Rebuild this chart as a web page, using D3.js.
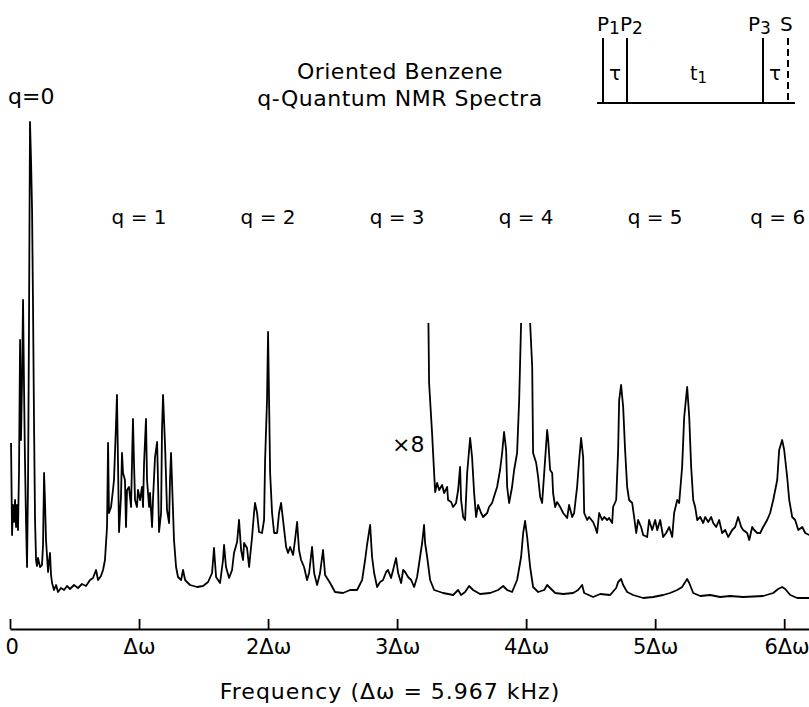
<!DOCTYPE html>
<html>
<head>
<meta charset="utf-8">
<script src="https://cdn.jsdelivr.net/npm/d3@7"></script>
<style>
  body { margin: 0; background: #fff; }
  svg { display: block; }
  text { font-family: "DejaVu Sans", sans-serif; fill: #000; }
</style>
</head>
<body>
<div id="vis"></div>
<script>
// spectrum values: [frequency in units of Δω, intensity (arb. units)]
const lowerTrace = [
  [0.008,157],[0.016,65],[0.023,95],[0.031,78],[0.039,100],[0.047,73],[0.054,95],[0.062,70],[0.070,130],[0.078,260],
  [0.085,160],[0.093,217],[0.101,300],[0.109,210],[0.116,140],[0.124,80],[0.132,33],[0.140,120],[0.147,270],[0.155,478],
  [0.163,440],[0.171,390],[0.178,300],[0.186,180],[0.194,80],[0.202,40],[0.209,34],[0.217,42],[0.233,33],[0.248,35],
  [0.256,55],[0.264,127],[0.271,100],[0.279,60],[0.287,44],[0.295,28],[0.302,38],[0.310,47],[0.318,25],[0.326,17],
  [0.341,10],[0.357,15],[0.372,8],[0.395,12],[0.419,10],[0.442,14],[0.465,11],[0.496,15],[0.527,12],[0.558,16],
  [0.589,14],[0.620,20],[0.643,22],[0.667,30],[0.682,20],[0.705,24],[0.721,30],[0.736,40],
  [0.752,73],[0.760,157],[0.767,87],[0.783,93],[0.798,110],[0.806,120],[0.822,177],[0.829,205],[0.837,137],[0.845,68],
  [0.860,103],[0.868,147],[0.876,127],[0.891,120],[0.899,73],[0.907,110],[0.922,113],[0.938,93],[0.946,140],[0.953,181],
  [0.961,137],[0.969,100],[0.984,93],[0.992,110],[1.008,100],[1.023,113],[1.031,93],[1.039,137],[1.054,181],[1.062,120],
  [1.078,93],[1.085,107],[1.101,73],[1.109,103],[1.124,143],[1.140,158],[1.147,120],[1.155,68],[1.171,87],[1.178,170],
  [1.186,205],[1.202,153],[1.217,90],[1.233,77],[1.240,120],[1.248,147],[1.264,87],[1.271,60],[1.287,33],[1.302,23],
  [1.326,20],[1.341,30],[1.357,20],[1.395,15],[1.450,13],[1.496,14],[1.535,18],
  [1.566,27],[1.581,52],[1.597,23],[1.628,17],[1.651,40],[1.659,55],[1.674,33],[1.698,22],[1.721,30],[1.736,47],
  [1.760,58],[1.775,80],[1.791,50],[1.806,40],[1.814,57],[1.837,52],[1.853,33],[1.876,63],[1.891,87],[1.899,97],
  [1.915,87],[1.930,68],[1.953,67],[1.969,80],[1.977,140],[1.992,200],[2.000,268],[2.008,197],[2.016,127],[2.031,87],
  [2.047,67],[2.070,67],[2.085,87],[2.101,97],[2.116,80],[2.140,53],[2.155,47],[2.171,53],[2.194,45],[2.209,60],
  [2.225,78],[2.240,50],[2.256,40],[2.279,33],[2.302,20],[2.318,27],[2.341,53],[2.357,27],[2.380,15],[2.403,27],
  [2.426,50],[2.442,25],[2.481,17],[2.519,8],[2.581,7],[2.636,10],[2.690,10],
  [2.729,20],[2.752,40],[2.767,55],[2.791,75],[2.806,43],[2.822,27],[2.845,13],[2.868,18],[2.891,20],[2.915,28],
  [2.930,30],[2.953,22],[2.969,30],[2.992,42],[3.008,27],[3.031,17],[3.047,30],[3.062,28],[3.085,23],[3.109,20],
  [3.132,13],[3.155,23],[3.178,43],[3.194,57],[3.209,75],[3.217,57],[3.233,43],[3.256,20],[3.287,10],[3.357,7],
  [3.434,5],[3.473,10],[3.496,5],[3.527,8],[3.558,14],[3.589,10],[3.643,6],[3.721,7],[3.783,10],[3.822,14],
  [3.853,10],[3.891,8],[3.930,20],[3.961,43],[3.977,67],[3.992,79],[4.008,63],[4.031,33],[4.054,13],[4.093,8],
  [4.140,10],[4.163,15],[4.186,12],[4.225,7],[4.287,6],[4.364,7],[4.403,10],[4.434,15],[4.450,7],[4.519,3],
  [4.574,6],[4.651,5],[4.698,12],[4.713,18],[4.736,21],[4.752,15],[4.783,8],[4.829,5],[4.907,2],[4.984,3],
  [5.062,5],[5.116,7],[5.171,10],[5.209,13],[5.233,18],[5.248,21],[5.264,17],[5.295,7],[5.349,4],[5.426,5],
  [5.504,3],[5.581,4],[5.682,3],[5.837,4],[5.915,7],[5.953,11],[5.984,13],[6.008,11],[6.047,5],[6.101,2],[6.194,2]
]

// the x8 expanded trace, as plotted (top clipped)
const x8Trace = [
  [3.240,310],[3.248,217],[3.271,167],[3.279,147],[3.287,127],[3.295,108],[3.310,117],[3.326,110],[3.349,115],[3.364,107],
  [3.388,113],[3.395,100],[3.419,98],[3.434,93],[3.457,97],[3.473,110],[3.488,133],[3.496,100],[3.512,83],[3.527,80],
  [3.543,127],[3.566,162],[3.581,143],[3.597,107],[3.612,83],[3.628,95],[3.651,87],[3.667,83],[3.698,87],[3.713,93],
  [3.736,97],[3.760,107],[3.775,113],[3.798,130],[3.814,147],[3.829,168],[3.845,150],[3.853,113],[3.868,97],[3.891,113],
  [3.907,130],[3.930,147],[3.946,200],[3.961,277],[3.992,350],[4.031,277],[4.047,233],[4.054,147],[4.078,137],[4.093,123],
  [4.109,103],[4.124,97],[4.140,127],[4.163,170],[4.171,160],[4.186,130],[4.202,127],[4.209,107],[4.225,93],[4.240,98],
  [4.264,93],[4.287,87],[4.318,82],[4.333,95],[4.357,83],[4.372,87],[4.395,113],[4.411,140],[4.426,162],[4.442,143],
  [4.450,87],[4.473,80],[4.488,83],[4.519,78],[4.535,73],[4.550,67],[4.566,87],[4.589,80],[4.605,83],[4.628,80],
  [4.643,82],[4.667,77],[4.674,93],[4.698,100],[4.713,150],[4.721,200],[4.736,215],[4.752,193],[4.767,150],[4.783,113],
  [4.798,100],[4.822,97],[4.837,83],[4.853,67],[4.868,80],[4.891,73],[4.907,65],[4.938,63],[4.953,80],[4.977,70],
  [5.000,80],[5.016,70],[5.039,80],[5.062,63],[5.085,67],[5.109,73],[5.132,63],[5.147,87],[5.171,100],[5.186,97],
  [5.209,133],[5.225,183],[5.248,213],[5.264,183],[5.279,133],[5.295,100],[5.310,93],[5.326,80],[5.349,83],[5.372,77],
  [5.388,83],[5.411,78],[5.434,83],[5.450,77],[5.473,73],[5.496,80],[5.519,67],[5.543,70],[5.566,63],[5.597,70],
  [5.620,73],[5.643,83],[5.667,73],[5.682,70],[5.713,67],[5.729,60],[5.752,73],[5.767,70],[5.791,67],[5.814,67],
  [5.837,73],[5.868,80],[5.891,87],[5.915,100],[5.946,120],[5.961,150],[5.984,160],[6.000,150],[6.023,123],[6.039,100],
  [6.062,83],[6.085,80],[6.109,70],[6.140,73],[6.163,67],[6.194,65]
]

const x8Clip = 277   // expanded trace is cut off above this level

const tickValues = [0, 1, 2, 3, 4, 5, 6]
const tickLabels = ["0", "Δω", "2Δω", "3Δω", "4Δω", "5Δω", "6Δω"]
// where each q label sits, in units of Δω
const qOrders = [1, 2, 3, 4, 5, 5.95]
const qLabels = ["q = 1", "q = 2", "q = 3", "q = 4", "q = 5", "q = 6"]

const width = 809
const height = 707

const svg = d3.select("#vis")
    .append("svg")
    .attr("width", width)
    .attr("height", height)

const x = d3.scaleLinear().domain([0, 6.2]).range([10, 810])
const y = d3.scaleLinear().domain([0, 480]).range([600, 120])

const line = d3.line()
    .x(d => x(d[0]))
    .y(d => y(d[1]))

svg.append("clipPath")
    .attr("id", "clipx8")
    .append("rect")
    .attr("x", 0)
    .attr("y", y(x8Clip))
    .attr("width", width)
    .attr("height", height)

svg.append("path")
    .datum(lowerTrace)
    .attr("d", line)
    .attr("fill", "none")
    .attr("stroke", "#000")
    .attr("stroke-width", 1.8)
    .attr("stroke-linejoin", "round")

svg.append("path")
    .datum(x8Trace)
    .attr("d", line)
    .attr("clip-path", "url(#clipx8)")
    .attr("fill", "none")
    .attr("stroke", "#000")
    .attr("stroke-width", 1.8)
    .attr("stroke-linejoin", "round")

// frequency axis, ticks pointing up
const axis = d3.axisBottom(x)
    .tickValues(tickValues)
    .tickFormat((d, i) => tickLabels[i])
    .tickSizeInner(-10)
    .tickSizeOuter(0)
    .tickPadding(10)

const gx = svg.append("g")
    .attr("transform", "translate(0,629)")
    .call(axis)

gx.select(".domain").attr("stroke-width", 2.2)
gx.selectAll(".tick line").attr("stroke-width", 1.8)
gx.selectAll(".tick text")
    .style("font-family", '"DejaVu Sans", sans-serif')
    .style("font-size", "21px")
    .attr("fill", "#000")
gx.select(".tick:first-of-type text").attr("text-anchor", "start").attr("dx", -5)
gx.select(".tick:last-of-type text").attr("text-anchor", "end").attr("dx", 25)

svg.append("text")
    .attr("x", 390)
    .attr("y", 699)
    .attr("text-anchor", "middle")
    .style("font-size", "22px")
    .style("letter-spacing", "1px")
    .text("Frequency  (Δω = 5.967 kHz)")

// q labels
svg.append("text").attr("x", 8).attr("y", 104).style("font-size", "22px").text("q=0")

svg.selectAll(".qlab")
    .data(qOrders)
    .enter()
    .append("text")
    .attr("class", "qlab")
    .attr("x", d => x(d))
    .attr("y", 224)
    .attr("text-anchor", "middle")
    .style("font-size", "20px")
    .text((d, i) => qLabels[i])

svg.append("text").attr("x", 392).attr("y", 452).style("font-size", "22px").text("×8")

// title
svg.append("text").attr("x", 400).attr("y", 79).attr("text-anchor", "middle")
    .style("font-size", "22px").style("letter-spacing", "0.5px").text("Oriented Benzene")
svg.append("text").attr("x", 400).attr("y", 106).attr("text-anchor", "middle")
    .style("font-size", "22px").style("letter-spacing", "0.5px").text("q-Quantum NMR Spectra")

// pulse sequence inset
const pulses = [
    {name: "P", sub: "1", x: 603},
    {name: "P", sub: "2", x: 627},
    {name: "P", sub: "3", x: 763},
    {name: "S", sub: "", x: 788, dashed: true}
]
const inset = svg.append("g")
inset.append("line").attr("x1", 597).attr("x2", 795).attr("y1", 103).attr("y2", 103)
    .attr("stroke", "#000").attr("stroke-width", 2)
inset.selectAll(".pulse")
    .data(pulses)
    .enter()
    .append("line")
    .attr("x1", d => d.x).attr("x2", d => d.x)
    .attr("y1", 38).attr("y2", 103)
    .attr("stroke", "#000").attr("stroke-width", 2)
    .attr("stroke-dasharray", d => d.dashed ? "7,4" : null)

const labs = [
    {t: "P", s: "1", x: 597}, {t: "P", s: "2", x: 620},
    {t: "P", s: "3", x: 748}, {t: "S", s: "", x: 780}
]
labs.forEach(l => {
    const t = inset.append("text").attr("x", l.x).attr("y", 31).style("font-size", "20px")
    t.append("tspan").text(l.t)
    if (l.s) t.append("tspan").attr("dy", 3).style("font-size", "17px").text(l.s)
})
inset.append("text").attr("x", 615).attr("y", 80).attr("text-anchor", "middle").style("font-size", "20px").text("τ")
inset.append("text").attr("x", 775).attr("y", 80).attr("text-anchor", "middle").style("font-size", "20px").text("τ")
const t1 = inset.append("text").attr("x", 690).attr("y", 80).style("font-size", "19px")
t1.append("tspan").text("t")
t1.append("tspan").attr("dy", 3).style("font-size", "15px").text("1")
</script>
</body>
</html>
